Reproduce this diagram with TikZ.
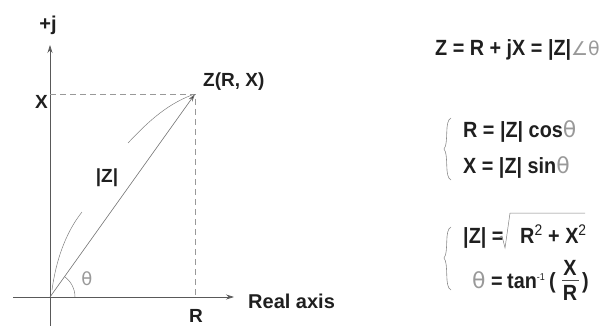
\documentclass[tikz,border=0pt]{standalone}
\usepackage{fontspec}
\setmainfont{Liberation Sans}
\newfontfamily\eqf{Liberation Sans}[FakeStretch=0.9]
\newfontfamily\thf{DejaVu Sans}
\usetikzlibrary{arrows.meta}
\newcommand\mythg{{\thf\mdseries\color{black!40}θ}}
\begin{document}
\begin{tikzpicture}[x=1pt,y=-1pt,
 axis/.style={draw=black!65, line width=0.7pt, -{Stealth[length=8pt,width=5pt]}},
 vec/.style={draw=black!55, line width=0.6pt, -{Stealth[length=8pt,width=4.5pt,fill=black!80]}},
 guide/.style={draw=black!40, dash pattern=on 6pt off 4pt, line width=0.6pt},
 lab/.style={font=\fontsize{19}{19}\selectfont\bfseries, text=black!88, inner sep=0pt},
 eq/.style={font=\eqf\fontsize{22}{22}\selectfont\bfseries, text=black!88, inner sep=0pt, anchor=base west},
 thin gray/.style={draw=black!50, line width=0.5pt},
 brace/.style={draw=black!45, line width=0.6pt},
]
\useasboundingbox (0,0) rectangle (612,326);
% coordinates
\coordinate (O) at (50,297);
\coordinate (P) at (195,94);
\coordinate (xs) at (13,297);
\coordinate (xe) at (234,297);
\coordinate (ys) at (50,326);
\coordinate (ye) at (50,45);
\coordinate (Xp) at (50,94);
\coordinate (Rp) at (195,297);
\coordinate (A0) at (75,297);
% axes
\draw[axis] (xs) -- (xe);
\draw[axis] (ys) -- (ye);
\draw[guide] (Xp) -- (P) -- (Rp);
\draw[vec] (O) -- (P);
\draw[thin gray] (A0) arc[start angle=0, end angle=-54.5, radius=25];
% sweep curves
\coordinate (s1a) at (52,290);
\coordinate (s1b) at (82,212);
\coordinate (s2a) at (128,143);
\coordinate (s2b) at (192,95);
\draw[thin gray] (s1a) .. controls (56,260) and (66,232) .. (s1b);
\draw[thin gray] (s2a) .. controls (145,125) and (165,105) .. (s2b);
% labels
\node[lab, anchor=base, font=\fontsize{20}{20}\selectfont\bfseries] (pj) at (48,31) {+j};
\node[lab, anchor=base] (lx) at (41.5,108) {X};
\node[lab, anchor=base west] (lz) at (203,87) {Z(R, X)};
\node[lab, anchor=base] (lm) at (107,182) {|Z|};
\node[lab, anchor=base] (lr) at (196,322.5) {R};
\node[lab, anchor=base west, font=\fontsize{20}{20}\selectfont\bfseries] (lra) at (248,308) {Real axis};
\node[inner sep=0pt, font=\thf\fontsize{18}{18}\selectfont, text=black!40] (lt) at (87,279) {θ};
% equations
\node[eq] (e1) at (435,56) {Z = R + jX = |Z|{\thf\mdseries\fontsize{19}{19}\selectfont\color{black!40}∠θ}};
\node[eq] (e2) at (463,137) {R = |Z| cos\mythg};
\node[eq] (e3) at (463,173) {X = |Z| sin\mythg};
\node[eq] (e4a) at (463,243) {|Z| =};
\node[eq] (e4b) at (520,243) {R\textsuperscript{\mdseries 2} + X\textsuperscript{\mdseries 2}};
\coordinate (r1) at (498,238);
\coordinate (r2) at (502,236);
\coordinate (r3) at (505,248);
\coordinate (r4) at (510,213);
\coordinate (r5) at (585,213);
\draw[thin gray] (r1) -- (r2) -- (r3) -- (r4) -- (r5);
\node[eq] (e5t) at (472,288) {\mythg};
\node[eq] (e5a) at (491,288) {=};
\node[eq] (e5b) at (507,288) {tan{\mdseries\fontsize{10}{10}\selectfont\raisebox{8pt}{-1}}};
\node[eq] (e5c) at (549,288) {(};
\node[eq, anchor=base] (fx) at (570,275) {X};
\node[eq, anchor=base] (fr) at (570,300) {R};
\coordinate (b1) at (562,280);
\coordinate (b2) at (579,280);
\draw[draw=black!70, line width=0.8pt] (b1) -- (b2);
\node[eq] (e5d) at (582,288) {)};
% braces
\coordinate (br1a) at (451,118);
\coordinate (br1m) at (444,149);
\coordinate (br1b) at (451,180);
\draw[brace] (br1a) .. controls (444,121) and (449,143) .. (br1m) .. controls (449,155) and (444,177) .. (br1b);
\coordinate (br2a) at (451,227);
\coordinate (br2m) at (444,258);
\coordinate (br2b) at (451,290);
\draw[brace] (br2a) .. controls (444,230) and (449,252) .. (br2m) .. controls (449,264) and (444,287) .. (br2b);
\end{tikzpicture}
\end{document}
